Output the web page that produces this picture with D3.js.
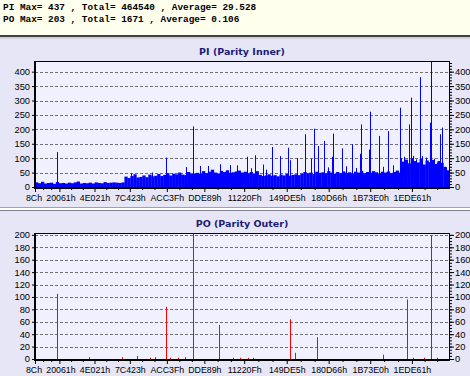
<!DOCTYPE html>
<html>
<head>
<meta charset="utf-8">
<script src="https://cdn.jsdelivr.net/npm/d3@7"></script>
<style>
  body { margin: 0; background: #e6e6f6; }
  svg { display: block; }
  .tick text { font-family: 'Liberation Sans', Arial, sans-serif; font-size: 8.8px; fill: #000; }
</style>
</head>
<body>
<svg id="chart" width="470" height="376"></svg>
<script>
// summary lines
const summary = [
  'PI Max= 437 , Total= 464540 , Average= 29.528',
  'PO Max= 203 , Total= 1671 , Average= 0.106'
];

// x axis (LBA addresses)
const addrMax = 2222000;
const tickAddrs = [0x8C, 0x20061, 0x4E021, 0x7C423, 0xACC3F, 0xDDE89, 0x11220F, 0x149DE5, 0x180D66, 0x1B73E0, 0x1EDE61];
const tickNames = ['8Ch', '20061h', '4E021h', '7C423h', 'ACC3Fh', 'DDE89h', '11220Fh', '149DE5h', '180D66h', '1B73E0h', '1EDE61h'];

// PI background level, one value per 16000 sectors starting at 8Ch
const piStep = 16000;
const piBase = [
  16, 13, 18, 12, 14, 15, 11, 17, 13, 14, 12, 15, 13, 16, 19, 12, 14, 13, 15, 12, 16, 14, 13, 17, 14, 15, 16, 15, 14, 16,
  36, 31, 38, 44, 33, 35, 40, 34, 43, 37, 39, 45, 38,
  42, 48, 40, 46, 44, 50, 43, 41, 52, 45, 47, 49, 46,
  55, 48, 53, 60, 50, 47, 56, 52, 58, 49, 51, 54, 57, 50, 53,
  48, 52, 47, 55, 42, 38, 40, 44, 39, 41, 37, 43, 40, 45, 39, 42, 44, 41,
  46, 52, 48, 50, 45, 53, 49, 51, 47, 55, 50, 46, 52, 48, 54, 49, 51, 47, 53, 50, 56, 48, 52, 49, 55, 51, 47, 53, 50, 54, 48, 52, 57, 50,
  88, 95, 82, 100, 90, 85, 97, 78, 92, 86, 94, 80, 90, 84,
  70, 58
];

// PI spikes: address, count
const piSpikeAddr = [118500, 516600, 629600, 704900, 812500, 850200, 887800, 930900, 995400, 1049200, 1086900,
  1135300, 1157000, 1178400, 1221400, 1242000, 1269800, 1312900, 1355900, 1366700, 1404300, 1447400, 1479600,
  1495800, 1517300, 1549600, 1575000, 1592600, 1598000, 1646400, 1670000, 1700200, 1722000, 1743200, 1748600,
  1791700, 1797000, 1845500, 1866900, 1893900, 1920000, 1958400, 1963800, 1979900, 2006800, 2017600, 2028400,
  2044500, 2066000, 2076800, 2098300, 2119800, 2125200, 2141400, 2157400, 2173500, 2184300, 2205900];
const piSpikeVal = [121, 47, 50, 102, 69, 210, 73, 73, 79, 76, 75,
  105, 65, 110, 78, 60, 139, 107, 136, 93, 100, 183, 98,
  202, 142, 160, 68, 105, 185, 134, 72, 148, 66, 115, 217,
  130, 261, 177, 70, 194, 75, 275, 100, 105, 217, 310, 108,
  96, 381, 107, 102, 223, 437, 98, 85, 183, 206, 67];

// PO spikes: address, count
const poSpikeAddr = [118500, 290700, 468200, 548900, 618800, 645700, 704900, 726400, 769500, 807100, 850200,
  990000, 1065400, 1103000, 1140700, 1167600, 1366700, 1393600, 1511900, 1866900, 1996100, 2028400, 2087600,
  2125200, 2157400];
const poSpikeVal = [105, 3, 3, 5, 2, 3, 84, 2, 2, 3, 203,
  55, 2, 2, 2, 2, 64, 10, 35, 7, 96, 2, 2,
  199, 2];

const svg = d3.select('#chart');

// header
svg.append('rect').attr('x', 0).attr('y', 0).attr('width', 470).attr('height', 36).attr('fill', '#ffffee');
svg.selectAll('.summary')
  .data(summary)
  .enter().append('text')
  .attr('class', 'summary')
  .attr('x', 3)
  .attr('y', (d, i) => 10 + i * 12)
  .style('font-family', "'Liberation Mono', 'Courier New', monospace")
  .style('font-size', '9.4px')
  .style('font-weight', 'bold')
  .text(d => d);
svg.append('rect').attr('x', 0).attr('y', 35).attr('width', 470).attr('height', 2).attr('fill', '#404040');
svg.append('rect').attr('x', 0).attr('y', 37).attr('width', 470).attr('height', 2).attr('fill', '#d0d0e0');

// panel separator
svg.append('rect').attr('x', 0).attr('y', 207).attr('width', 470).attr('height', 1).attr('fill', '#a0a0b0');
svg.append('rect').attr('x', 0).attr('y', 208).attr('width', 470).attr('height', 2).attr('fill', '#ffffff');
svg.append('rect').attr('x', 0).attr('y', 210).attr('width', 470).attr('height', 1).attr('fill', '#808090');

const left = 35, right = 449;
const x = d3.scaleLinear().domain([0x8C, addrMax]).range([left, right]);

function drawPanel(opts) {
  const { top, bottom, yMax, step, minor, title, titleY } = opts;
  const y = d3.scaleLinear().domain([0, yMax]).range([bottom, top]);
  const g = svg.append('g');

  g.append('text')
    .attr('x', (left + right) / 2)
    .attr('y', titleY)
    .attr('text-anchor', 'middle')
    .style('font-family', "'DejaVu Sans', Verdana, sans-serif")
    .style('font-size', '9.5px')
    .style('font-weight', 'bold')
    .style('fill', '#1c1c78')
    .text(title);

  g.append('rect')
    .attr('x', left).attr('y', top)
    .attr('width', right - left).attr('height', bottom - top)
    .attr('fill', '#f0f0fe');

  const majors = d3.range(step, yMax + 1, step);
  g.append('g').selectAll('line')
    .data(majors)
    .enter().append('line')
    .attr('x1', left).attr('x2', right)
    .attr('y1', d => Math.round(y(d)) + 0.5)
    .attr('y2', d => Math.round(y(d)) + 0.5)
    .attr('stroke', '#707070')
    .attr('stroke-dasharray', '3,2');

  const marks = g.append('g');
  opts.drawMarks(marks, y);

  // frame
  g.append('rect')
    .attr('x', left + 0.5).attr('y', top + 0.5)
    .attr('width', right - left).attr('height', bottom - top)
    .attr('fill', 'none').attr('stroke', '#000');

  // left axis
  const yl = g.append('g')
    .attr('transform', `translate(${left},0)`)
    .call(d3.axisLeft(y).tickValues(d3.range(0, yMax + 1, step)).tickSize(3).tickPadding(2));
  yl.select('.domain').attr('stroke-width', 2).attr('d', `M0,${top}V${bottom + 1}`);
  yl.selectAll('.tick text').style('font-size', '9.3px');

  // right axis with minor ticks
  g.append('g')
    .attr('transform', `translate(${right + 1},0)`)
    .call(d3.axisRight(y).tickValues(d3.range(0, yMax + 1, minor)).tickSize(2).tickFormat(''))
    .call(a => a.select('.domain').remove());
  g.append('g')
    .attr('transform', `translate(${right + 1},0)`)
    .call(d3.axisRight(y).tickValues(d3.range(0, yMax + 1, step)).tickSize(4).tickPadding(1))
    .call(a => a.select('.domain').remove())
    .call(a => a.selectAll('.tick text').style('font-size', '9.3px'));

  // bottom axis
  const minorTicks = [];
  for (let i = 0; i < tickAddrs.length - 1; i++) {
    const a = tickAddrs[i], b = tickAddrs[i + 1];
    minorTicks.push(a + (b - a) / 3, a + 2 * (b - a) / 3);
  }
  minorTicks.push(tickAddrs[10] + 68000, tickAddrs[10] + 136000);
  g.append('g')
    .attr('transform', `translate(0,${bottom + 1})`)
    .call(d3.axisBottom(x).tickValues(minorTicks).tickSize(2).tickFormat(''))
    .call(a => a.select('.domain').remove());
  const xa = g.append('g')
    .attr('transform', `translate(0,${bottom + 1})`)
    .call(d3.axisBottom(x).tickValues(tickAddrs).tickSize(4).tickPadding(3)
      .tickFormat((d, i) => tickNames[i]));
  xa.select('.domain').attr('stroke-width', 2).attr('d', `M${left - 1},0H${right + 1}`);
  xa.selectAll('.tick text').attr('dx', (d, i) => i === 0 ? -1.5 : i === 1 ? 1 : 0);
}

drawPanel({
  top: 61, bottom: 187, yMax: 437, step: 50, minor: 10,
  title: 'PI (Parity Inner)', titleY: 55,
  drawMarks: (g, y) => {
    g.selectAll('.base')
      .data(piBase)
      .enter().append('rect')
      .attr('x', (d, i) => x(0x8C + i * piStep))
      .attr('width', (d, i) => x(Math.min(0x8C + (i + 1) * piStep, addrMax)) - x(0x8C + i * piStep) + 0.3)
      .attr('y', d => y(d))
      .attr('height', d => y(0) - y(d))
      .attr('fill', '#0000ff');
    g.selectAll('.spike')
      .data(piSpikeAddr)
      .enter().append('line')
      .attr('x1', d => Math.round(x(d)) + 0.5)
      .attr('x2', d => Math.round(x(d)) + 0.5)
      .attr('y1', y(0))
      .attr('y2', (d, i) => y(piSpikeVal[i]))
      .attr('stroke', '#0000ff');
  }
});

drawPanel({
  top: 233, bottom: 359, yMax: 203, step: 20, minor: 5,
  title: 'PO (Parity Outer)', titleY: 227,
  drawMarks: (g, y) => {
    g.selectAll('.spike')
      .data(poSpikeAddr)
      .enter().append('line')
      .attr('x1', d => Math.round(x(d)) + 0.5)
      .attr('x2', d => Math.round(x(d)) + 0.5)
      .attr('y1', y(0))
      .attr('y2', (d, i) => y(poSpikeVal[i]))
      .attr('stroke', '#ff0000');
  }
});
</script>
</body>
</html>
